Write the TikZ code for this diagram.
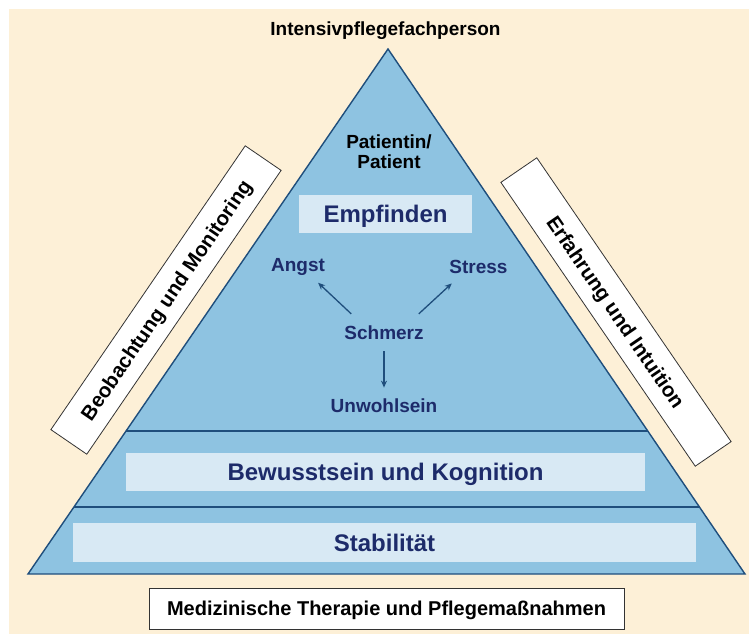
\documentclass[tikz,border=0pt]{standalone}
\usepackage{fontspec}
\setmainfont{Liberation Sans}
\usetikzlibrary{arrows.meta,calc}
\definecolor{Sand}{HTML}{FDF0D7}
\definecolor{Pyramid}{HTML}{8EC3E1}
\definecolor{Band}{HTML}{D8E9F4}
\definecolor{Edge}{HTML}{1F4E7C}
\definecolor{Navy}{HTML}{1D2B6A}
\tikzset{
  level/.style={fill=Band,inner sep=0pt,text=Navy,font=\fontsize{24}{24}\selectfont\bfseries,text height=17.2pt,text depth=0pt},
  feel/.style={text=Navy,inner sep=2pt,font=\fontsize{19}{19}\selectfont\bfseries},
  sidebox/.style={draw=black!80,fill=white,line width=.8pt,minimum width=344pt,minimum height=43.5pt,inner sep=0pt,font=\fontsize{20.5}{20.5}\selectfont\bfseries,text height=14.7pt,text depth=0pt},
  basebox/.style={draw=black!80,fill=white,line width=.8pt,minimum width=475pt,minimum height=41pt,inner sep=0pt,font=\fontsize{20}{20}\selectfont\bfseries,text height=14.3pt,text depth=0pt},
  arr/.style={Edge,line width=1.3pt,-{Stealth[length=7pt,width=6pt]}}
}
\begin{document}
\begin{tikzpicture}[x=1pt,y=-1pt]
  \useasboundingbox (0,0) rectangle (749,634);
  \fill[white] (0,0) rectangle (749,634);
  \fill[Sand] (9,9) rectangle (749,634);
  \coordinate (apex) at (388,49);
  \coordinate (bl) at (28,574);
  \coordinate (br) at (745,574);
  \fill[Pyramid] (apex) -- (br) -- (bl) -- cycle;
  \node[level,minimum width=173pt,minimum height=38pt] (empf) at (385.5,214) {Empfinden};
  \node[level,minimum width=519pt,minimum height=38pt] (bewusst) at (385.5,471.5) {Bewusstsein und Kognition};
  \node[level,minimum width=623pt,minimum height=39pt] (stab) at (384.5,542.5) {Stabilität};
  \draw[Edge,line width=1.6pt] ($(apex)!.7276!(bl)$) -- ($(apex)!.7276!(br)$);
  \draw[Edge,line width=1.6pt] ($(apex)!.8724!(bl)$) -- ($(apex)!.8724!(br)$);
  \draw[Edge,line width=1.4pt,line join=miter] (apex) -- (br) -- (bl) -- cycle;
  \node[font=\fontsize{19}{19}\selectfont\bfseries] (nurse) at (385.5,30.7) {Intensivpflegefachperson};
  \node[align=center,font=\fontsize{19}{20}\selectfont\bfseries] (patient) at (389,151.5) {Patientin/\\Patient};
  \node[feel] (angst) at (298,267) {Angst};
  \node[feel] (stress) at (478.5,266.5) {Stress};
  \node[feel] (schmerz) at (384,333) {Schmerz};
  \node[feel] (unwohl) at (384,405.5) {Unwohlsein};
  \draw[arr] ([shift={(9,-10)}]schmerz.north west) -- ([shift={(-9,5)}]angst.south east);
  \draw[arr] ([shift={(-7,-10)}]schmerz.north east) -- ([shift={(4.5,8)}]stress.south west);
  \draw[arr,shorten <=9pt,shorten >=8.7pt] (schmerz) -- (unwohl);
  \node[sidebox,rotate=55.6] (watch) at (166,300) {Beobachtung und Monitoring};
  \node[sidebox,rotate=-55.6] (skill) at (616,312) {Erfahrung und Intuition};
  \node[basebox] (therapy) at (386.5,608.5) {Medizinische Therapie und Pflegemaßnahmen};
\end{tikzpicture}
\end{document}
